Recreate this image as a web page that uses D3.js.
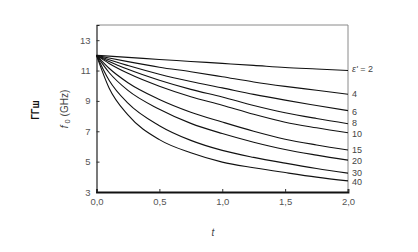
<!DOCTYPE html>
<html>
<head>
<meta charset="utf-8">
<script src="https://cdn.jsdelivr.net/npm/d3@7"></script>
<style>
  body { margin: 0; background: #fff; }
  text { font-family: "Liberation Sans", Arial, sans-serif; }
</style>
</head>
<body>
<div id="chart"></div>
<script>
// thickness t (x) and resonance frequency f0 in GHz (y), one row per permittivity
var tValues = [0, 0.1, 0.25, 0.5, 0.75, 1.0, 1.25, 1.5, 1.75, 2.0];
var epsLabels = ["2", "4", "6", "8", "10", "15", "20", "30", "40"];
var f0_eps2  = [12, 11.95, 11.87, 11.73, 11.60, 11.47, 11.34, 11.20, 11.10, 11.00];
var f0_eps4  = [12, 11.83, 11.59, 11.22, 10.92, 10.59, 10.25, 9.96, 9.70, 9.44];
var f0_eps6  = [12, 11.71, 11.33, 10.76, 10.28, 9.86, 9.43, 9.05, 8.70, 8.36];
var f0_eps8  = [12, 11.60, 11.08, 10.36, 9.76, 9.26, 8.70, 8.22, 7.84, 7.50];
var f0_eps10 = [12, 11.47, 10.82, 9.97, 9.28, 8.72, 8.12, 7.60, 7.23, 6.90];
var f0_eps15 = [12, 11.15, 10.20, 9.10, 8.26, 7.61, 7.00, 6.48, 6.10, 5.77];
var f0_eps20 = [12, 10.87, 9.69, 8.45, 7.52, 6.85, 6.28, 5.80, 5.43, 5.10];
var f0_eps30 = [12, 10.36, 8.85, 7.37, 6.40, 5.74, 5.28, 4.90, 4.55, 4.24];
var f0_eps40 = [12, 9.85, 8.08, 6.45, 5.58, 4.97, 4.60, 4.28, 3.98, 3.73];
var xTicks = [0, 0.5, 1.0, 1.5, 2.0];
var yTicks = [3, 5, 7, 9, 11, 13];

var allSeries = [f0_eps2, f0_eps4, f0_eps6, f0_eps8, f0_eps10, f0_eps15, f0_eps20, f0_eps30, f0_eps40];
// small vertical nudges (px) so end labels don't collide
var labelNudge = [-2, 0, 1.5, -1, 1, 0, 0.5, -0.5, 1];

var WIDTH = 418, HEIGHT = 252;
var PLOT_L = 96.5, PLOT_R = 348, PLOT_T = 25, PLOT_B = 192;

var svg = d3.select("#chart").append("svg")
    .attr("width", WIDTH)
    .attr("height", HEIGHT);

var x = d3.scaleLinear().domain([0, 2]).range([PLOT_L, PLOT_R]);
var y = d3.scaleLinear().domain([3, 14]).range([PLOT_B, PLOT_T]);

var comma = function (d) { return d3.format(".1f")(d).replace(".", ","); };

// frame (top and right in grey)
svg.append("path")
    .attr("d", "M" + PLOT_L + "," + PLOT_T + "H" + PLOT_R + "V" + PLOT_B)
    .attr("fill", "none")
    .attr("stroke", "#8a8a8a")
    .attr("stroke-width", 1);

var yAxis = svg.append("g")
    .attr("transform", "translate(" + PLOT_L + ",0)")
    .call(d3.axisRight(y).tickValues(yTicks).tickSize(3).tickFormat(d3.format("d")));
yAxis.select(".domain").attr("stroke", "#222").attr("stroke-width", 1.2);
yAxis.selectAll(".tick line").attr("stroke", "#333");
yAxis.selectAll(".tick text")
    .attr("x", -6)
    .attr("text-anchor", "end")
    .attr("fill", "#555")
    .style("font-size", "9.5px");

var xAxis = svg.append("g")
    .attr("transform", "translate(0," + PLOT_B + ")")
    .call(d3.axisTop(x).tickValues(xTicks).tickSize(3).tickFormat(comma));
xAxis.select(".domain").attr("stroke", "#111").attr("stroke-width", 1.8);
xAxis.selectAll(".tick line").attr("stroke", "#333");
xAxis.selectAll(".tick text")
    .attr("y", 13)
    .attr("dy", "0")
    .attr("fill", "#555")
    .style("font-size", "9.5px");

var line = d3.line()
    .x(function (d, i) { return x(tValues[i]); })
    .y(function (d) { return y(d); })
    .curve(d3.curveMonotoneX);

svg.append("g").selectAll("path")
    .data(allSeries)
    .enter().append("path")
    .attr("d", line)
    .attr("fill", "none")
    .attr("stroke", "#111")
    .attr("stroke-width", 1.1);

// labels at right end of each curve
var labels = svg.append("g");
allSeries.forEach(function (s, i) {
    var t = labels.append("text")
        .attr("x", PLOT_R + 4)
        .attr("y", y(s[s.length - 1]) + labelNudge[i])
        .attr("dy", "0.35em")
        .attr("fill", "#444")
        .style("font-size", "9px");
    if (i === 0) {
        t.append("tspan").style("font-style", "italic").text("\u03b5'");
        t.append("tspan").text(" = " + epsLabels[i]);
    } else {
        t.text(epsLabels[i]);
    }
});

// axis titles
svg.append("text")
    .attr("x", 213)
    .attr("y", 236)
    .attr("text-anchor", "middle")
    .attr("fill", "#444")
    .style("font-size", "10px")
    .style("font-style", "italic")
    .text("t");

var yt = svg.append("text")
    .attr("transform", "translate(68,109)rotate(-90)")
    .attr("text-anchor", "middle")
    .attr("fill", "#444")
    .style("font-size", "10px");
yt.append("tspan").style("font-style", "italic").text("f");
yt.append("tspan").attr("dy", 2).style("font-size", "7.5px").text(" 0");
yt.append("tspan").attr("dy", -2).text("  (GHz)");

svg.append("text")
    .attr("transform", "translate(39,110)rotate(-90)")
    .attr("text-anchor", "middle")
    .attr("fill", "#111")
    .style("font-size", "10px")
    .style("font-weight", "bold")
    .text("ГГш");
</script>
</body>
</html>
